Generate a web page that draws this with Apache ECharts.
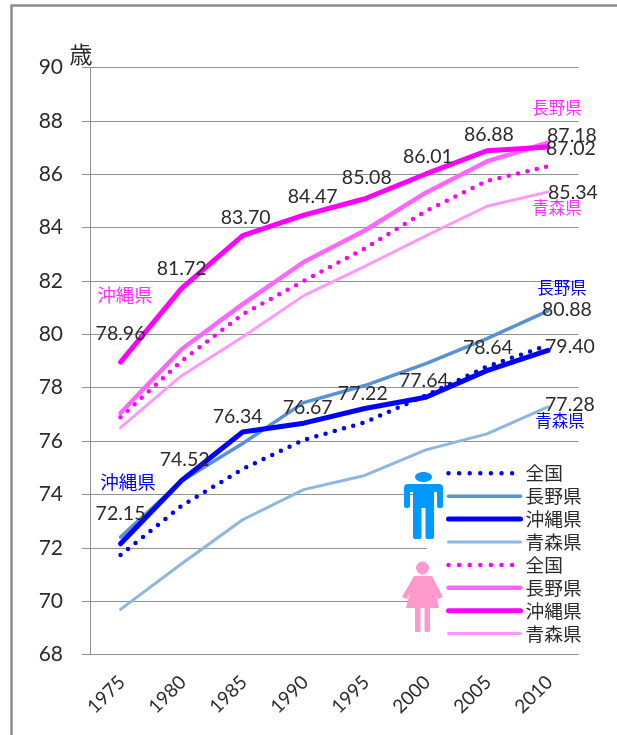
<!DOCTYPE html>
<html>
<head>
<meta charset="utf-8">
<style>
  html, body { margin: 0; padding: 0; background: #fff; }
  #chart { width: 617px; height: 735px; }
</style>
<script src="https://cdn.jsdelivr.net/npm/echarts@6/dist/echarts.min.js"></script>
</head>
<body>
<div id="chart"></div>
<script>
  var years = ['1975', '1980', '1985', '1990', '1995', '2000', '2005', '2010'];

  // 男性
  var maleAll = [71.73, 73.57, 74.95, 76.04, 76.70, 77.71, 78.79, 79.59];
  var maleNagano = [72.40, 74.50, 75.91, 77.44, 78.08, 78.90, 79.84, 80.88];
  var maleOkinawa = [72.15, 74.52, 76.34, 76.67, 77.22, 77.64, 78.64, 79.40];
  var maleAomori = [69.69, 71.40, 73.05, 74.18, 74.71, 75.67, 76.27, 77.28];

  // 女性
  var femaleAll = [76.89, 79.00, 80.75, 82.00, 83.22, 84.62, 85.75, 86.30];
  var femaleNagano = [77.05, 79.44, 81.13, 82.71, 83.89, 85.31, 86.48, 87.18];
  var femaleOkinawa = [78.96, 81.72, 83.70, 84.47, 85.08, 86.01, 86.88, 87.02];
  var femaleAomori = [76.50, 78.45, 79.90, 81.45, 82.55, 83.69, 84.80, 85.34];

  var textColor = '#2b2b2b';
  var gridColor = '#929292';
  var latin = 'Lato, "Noto Sans CJK JP"';
  var cjk = '"Noto Sans CJK JP"';

  // 数値ラベルのずらし量
  var maleOkinawaOffset = [[0, -30], [3, -21], [-5, -15], [4, -15], [-2, -15], [-2, -17], [1, -23], [22, -4]];
  var femaleOkinawaOffset = [[0, -28], [0, -20], [3, -18], [9, -18], [2, -21], [2, -17], [2, -16], [23, 2]];

  function labelItem(index, value, offset) {
    return {
      value: [index, value],
      label: { offset: offset }
    };
  }

  var labelData = [];
  maleOkinawa.forEach(function (v, i) {
    labelData.push(labelItem(i, v, maleOkinawaOffset[i]));
  });
  femaleOkinawa.forEach(function (v, i) {
    labelData.push(labelItem(i, v, femaleOkinawaOffset[i]));
  });
  labelData.push(labelItem(7, femaleNagano[7], [24, -7]));
  labelData.push(labelItem(7, femaleAomori[7], [25, 1]));
  labelData.push(labelItem(7, maleNagano[7], [19, -1]));
  labelData.push(labelItem(7, maleAomori[7], [22, -2]));

  function lineSeries(name, data, color, width, dotted) {
    return {
      name: name,
      type: 'line',
      data: data,
      symbol: 'none',
      silent: true,
      lineStyle: {
        color: color,
        width: width,
        type: dotted ? [0, 9.6] : 'solid',
        cap: 'round',
        join: 'round'
      },
      itemStyle: { color: color }
    };
  }

  // 凡例は線だけ（丸を出さない）
  function legendItem(name, width, dotted) {
    return {
      name: name,
      itemStyle: { opacity: 0 },
      lineStyle: {
        width: width,
        type: dotted ? [0, 10.6] : 'solid',
        cap: 'round'
      }
    };
  }

  function note(text, x, y, color, size) {
    return {
      type: 'text',
      z: 6,
      style: {
        text: text,
        x: x,
        y: y,
        fill: color,
        font: size + 'px ' + cjk,
        textAlign: 'center',
        textVerticalAlign: 'middle'
      }
    };
  }

  var blue = '#0099ff';
  var pink = '#ff99cc';

  var chart = echarts.init(document.getElementById('chart'));

  chart.setOption({
    backgroundColor: '#fff',
    animation: false,
    grid: { left: 90, right: 38.5, top: 67.5, bottom: 80.5 },
    xAxis: {
      type: 'category',
      data: years,
      axisLine: { lineStyle: { color: gridColor, width: 1 } },
      axisTick: { length: 8, lineStyle: { color: gridColor } },
      axisLabel: {
        rotate: 45,
        interval: 0,
        margin: 26,
        fontSize: 19,
        fontFamily: latin,
        color: textColor,
        padding: [0, -2, 0, 0]
      }
    },
    yAxis: {
      type: 'value',
      min: 68,
      max: 90,
      interval: 2,
      axisLine: { show: true, lineStyle: { color: gridColor, width: 1 } },
      axisTick: { show: true, length: 8, lineStyle: { color: gridColor } },
      axisLabel: {
        margin: 27,
        fontSize: 21,
        fontFamily: latin,
        color: textColor
      },
      splitLine: { show: true, lineStyle: { color: gridColor, width: 1 } }
    },
    legend: {
      orient: 'vertical',
      left: 441,
      top: 459,
      itemWidth: 72,
      itemHeight: 16,
      itemGap: 4.2,
      selectedMode: false,
      textStyle: { fontSize: 18.7, fontFamily: cjk, color: textColor },
      formatter: function (name) {
        return name.slice(2);
      },
      data: [
        legendItem('男性全国', 4.5, true),
        legendItem('男性長野県', 3.5, false),
        legendItem('男性沖縄県', 5, false),
        legendItem('男性青森県', 3, false),
        legendItem('女性全国', 4.5, true),
        legendItem('女性長野県', 4.5, false),
        legendItem('女性沖縄県', 5, false),
        legendItem('女性青森県', 3, false)
      ]
    },
    series: [
      lineSeries('男性全国', maleAll, '#0000ff', 4.5, true),
      lineSeries('男性長野県', maleNagano, '#5692d4', 3.5, false),
      lineSeries('男性沖縄県', maleOkinawa, '#0000ff', 5, false),
      lineSeries('男性青森県', maleAomori, '#8db6e3', 3, false),
      lineSeries('女性全国', femaleAll, '#ff00ff', 4.5, true),
      lineSeries('女性長野県', femaleNagano, '#ff66ff', 4.5, false),
      lineSeries('女性沖縄県', femaleOkinawa, '#ff00ff', 5, false),
      lineSeries('女性青森県', femaleAomori, '#ff99ff', 3, false),
      {
        type: 'scatter',
        data: labelData,
        symbolSize: 1,
        z: 5,
        silent: true,
        itemStyle: { color: 'transparent', opacity: 1 },
        label: {
          show: true,
          position: 'inside',
          fontSize: 19.5,
          fontFamily: latin,
          color: textColor,
          formatter: function (p) {
            return p.value[1].toFixed(2);
          }
        }
      }
    ],
    graphic: [
      // 外枠
      {
        type: 'polyline',
        z: 1,
        shape: { points: [[11.5, 735], [11.5, 5.5], [617, 5.5]] },
        style: { stroke: '#8c8c8c', lineWidth: 2.5, fill: null }
      },
      // 凡例の白地（目盛線を隠す）
      {
        type: 'rect',
        z: 3,
        shape: { x: 427, y: 460, width: 152, height: 190 },
        style: { fill: '#fff' }
      },
      { type: 'text', z: 6, style: { text: '歳', x: 81, y: 54, fill: textColor, font: '23px ' + cjk, textAlign: 'center', textVerticalAlign: 'middle' } },
      note('沖縄県', 125, 295, '#ff33ff', 18.5),
      note('長野県', 557, 108, '#ff33ff', 16.5),
      note('青森県', 557, 208, '#ff33ff', 16.5),
      note('長野県', 562, 288, '#0000ff', 16.5),
      note('青森県', 560, 421, '#0000ff', 16.5),
      note('沖縄県', 128, 482, '#0000ff', 18.5),
      // 男性アイコン
      { type: 'ellipse', z: 6, shape: { cx: 423.5, cy: 477, rx: 8.5, ry: 5 }, style: { fill: blue } },
      { type: 'rect', z: 6, shape: { x: 404, y: 484, width: 39, height: 8, r: [4, 4, 0, 0] }, style: { fill: blue } },
      { type: 'rect', z: 6, shape: { x: 404, y: 488, width: 6, height: 20, r: 2 }, style: { fill: blue } },
      { type: 'rect', z: 6, shape: { x: 437, y: 488, width: 6, height: 20, r: 2 }, style: { fill: blue } },
      { type: 'rect', z: 6, shape: { x: 413, y: 488, width: 21, height: 20 }, style: { fill: blue } },
      { type: 'rect', z: 6, shape: { x: 413, y: 505, width: 8.5, height: 34, r: 2 }, style: { fill: blue } },
      { type: 'rect', z: 6, shape: { x: 425.5, y: 505, width: 8.5, height: 34, r: 2 }, style: { fill: blue } },
      // 女性アイコン
      { type: 'circle', z: 6, shape: { cx: 422.5, cy: 568, r: 6.5 }, style: { fill: pink } },
      { type: 'polygon', z: 6, shape: { points: [[414, 576], [432, 576], [439, 608], [406, 608]] }, style: { fill: pink } },
      { type: 'polygon', z: 6, shape: { points: [[414, 576], [417, 580], [407, 599], [402, 597]] }, style: { fill: pink } },
      { type: 'polygon', z: 6, shape: { points: [[432, 576], [429, 580], [438, 599], [443, 597]] }, style: { fill: pink } },
      { type: 'rect', z: 6, shape: { x: 415, y: 605, width: 5.5, height: 27, r: 1.5 }, style: { fill: pink } },
      { type: 'rect', z: 6, shape: { x: 424.5, y: 605, width: 5.5, height: 27, r: 1.5 }, style: { fill: pink } }
    ]
  });
</script>
</body>
</html>
